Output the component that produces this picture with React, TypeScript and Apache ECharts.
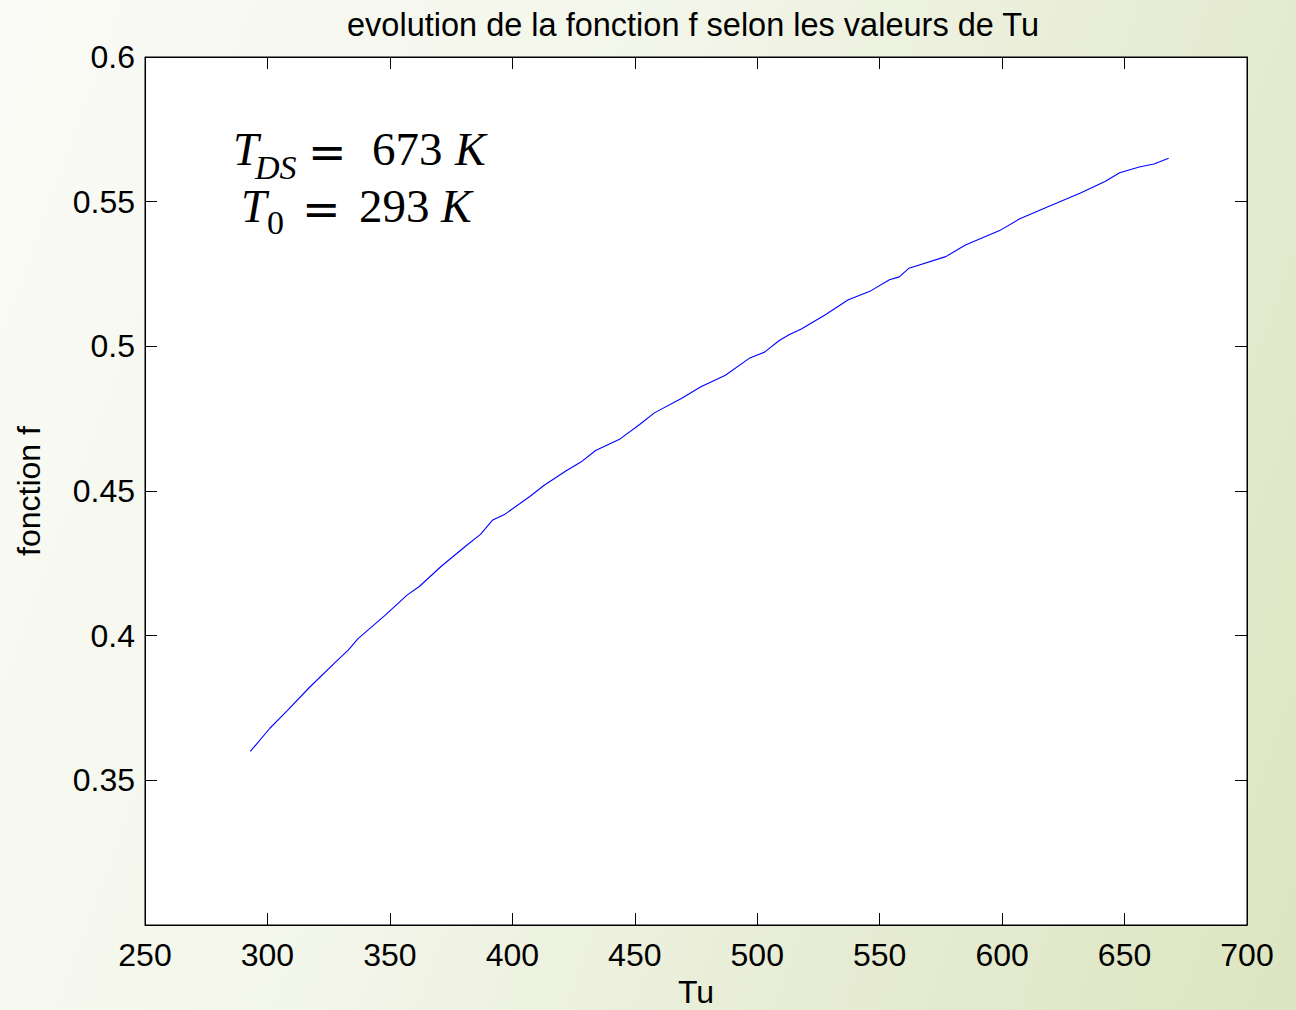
import React, { useEffect, useRef } from "react";
import * as echarts from "echarts";

// Température Tu (K) et valeurs de la fonction f
const tu = [
  293, 301, 308, 317, 328, 333, 337, 348, 357, 362, 371, 381, 387, 392, 397, 407,
  413, 422, 428, 434, 444, 452, 458, 469, 477, 487, 497, 503, 509, 513, 518, 528,
  537, 546, 554, 558, 562, 577, 585, 599, 607, 618, 632, 642, 648, 656, 662, 668,
];
const f = [
  0.36, 0.368, 0.374, 0.382, 0.391, 0.395, 0.399, 0.407, 0.414, 0.417, 0.424, 0.431,
  0.435, 0.44, 0.442, 0.448, 0.452, 0.457, 0.46, 0.464, 0.468, 0.473, 0.477, 0.482,
  0.486, 0.49, 0.496, 0.498, 0.502, 0.504, 0.506, 0.511, 0.516, 0.519, 0.523, 0.524,
  0.527, 0.531, 0.535, 0.54, 0.544, 0.548, 0.553, 0.557, 0.56, 0.562, 0.563, 0.565,
];

const xRange = [250, 700];
const xStep = 50;
const yRange = [0.3, 0.6];
const yStep = 0.05;

const titleText = "evolution de la fonction f selon les valeurs de Tu";
const xName = "Tu";
const yName = "fonction f";

const SANS = "'Liberation Sans', Arial, sans-serif";
const SERIF = "'Liberation Serif', 'Times New Roman', serif";
const SERIF_EQ = "'DejaVu Serif', serif";

function mathText(text: string, x: number, y: number, size: number, italic: boolean, family = SERIF) {
  return {
    type: "text",
    x,
    y,
    style: {
      text,
      fill: "#000",
      font: `${italic ? "italic " : ""}${size}px ${family}`,
      align: "left",
      verticalAlign: "middle",
    },
  };
}

export default function App() {
  const ref = useRef<HTMLDivElement>(null);

  useEffect(() => {
    if (!ref.current) return;
    const chart = echarts.init(ref.current, undefined, { renderer: "svg" });
    const pts = tu.map((t, i) => [t, f[i]]);

    const tickCommon = {
      show: true,
      inside: true,
      length: 12,
      lineStyle: { color: "#000", width: 1 },
    };

    chart.setOption({
      animation: false,
      backgroundColor: "transparent",
      title: {
        text: titleText,
        left: 688,
        textAlign: "center",
        top: 3,
        textStyle: { fontFamily: SANS, fontSize: 32.5, fontWeight: "normal", color: "#000" },
      },
      grid: {
        left: 145,
        right: 49,
        top: 57,
        bottom: 85,
        outerBoundsMode: "none",
        containLabel: false,
        show: true,
        backgroundColor: "#fff",
        borderColor: "#000",
        borderWidth: 1,
      },
      xAxis: [
        {
          type: "value",
          min: xRange[0],
          max: xRange[1],
          interval: xStep,
          name: xName,
          nameLocation: "middle",
          nameGap: 49,
          nameTextStyle: { fontFamily: SANS, fontSize: 32, color: "#000", lineHeight: 30 },
          axisLine: { show: true, lineStyle: { color: "#000" } },
          axisTick: tickCommon,
          splitLine: { show: false },
          axisLabel: { fontFamily: SANS, fontSize: 32, color: "#000", margin: 14 },
        },
        {
          type: "value",
          position: "top",
          min: xRange[0],
          max: xRange[1],
          interval: xStep,
          axisLine: { show: true, lineStyle: { color: "#000" } },
          axisTick: tickCommon,
          splitLine: { show: false },
          axisLabel: { show: false },
        },
      ],
      yAxis: [
        {
          type: "value",
          min: yRange[0],
          max: yRange[1],
          interval: yStep,
          name: yName,
          nameLocation: "middle",
          nameGap: 100,
          nameTextStyle: { fontFamily: SANS, fontSize: 32, color: "#000" },
          axisLine: { show: true, lineStyle: { color: "#000" } },
          axisTick: tickCommon,
          splitLine: { show: false },
          axisLabel: {
            fontFamily: SANS,
            fontSize: 32,
            color: "#000",
            margin: 10,
            formatter: (v: number) => {
              const r = Math.round(v * 100) / 100;
              return r <= yRange[0] + 1e-9 ? "" : String(r);
            },
          },
        },
        {
          type: "value",
          position: "right",
          min: yRange[0],
          max: yRange[1],
          interval: yStep,
          axisLine: { show: true, lineStyle: { color: "#000" } },
          axisTick: tickCommon,
          splitLine: { show: false },
          axisLabel: { show: false },
        },
      ],
      graphic: [
        mathText("T", 233, 149, 46, true),
        mathText("DS", 255, 167, 34, true),
        mathText("=", 308, 152, 46, false, SERIF_EQ),
        mathText("673", 372, 149, 47, false),
        mathText("K", 455, 149, 46, true),
        mathText("T", 241, 206, 46, true),
        mathText("0", 267, 222, 34, false),
        mathText("=", 302, 209, 46, false, SERIF_EQ),
        mathText("293", 359, 206, 47, false),
        mathText("K", 441, 206, 46, true),
      ],
      series: [
        {
          type: "line",
          data: pts,
          xAxisIndex: 0,
          yAxisIndex: 0,
          showSymbol: false,
          symbol: "none",
          lineStyle: { color: "#0000ff", width: 1.1 },
        },
      ],
    });

    return () => chart.dispose();
  }, []);

  return (
    <div
      style={{
        position: "absolute",
        left: 0,
        top: 0,
        width: 1296,
        height: 1010,
        background:
          "linear-gradient(110deg, #fafbf6 0%, #f3f6ea 40%, #e8edd6 68%, #dce5c1 100%)",
      }}
    >
      <div ref={ref} style={{ width: 1296, height: 1010 }} />
    </div>
  );
}
